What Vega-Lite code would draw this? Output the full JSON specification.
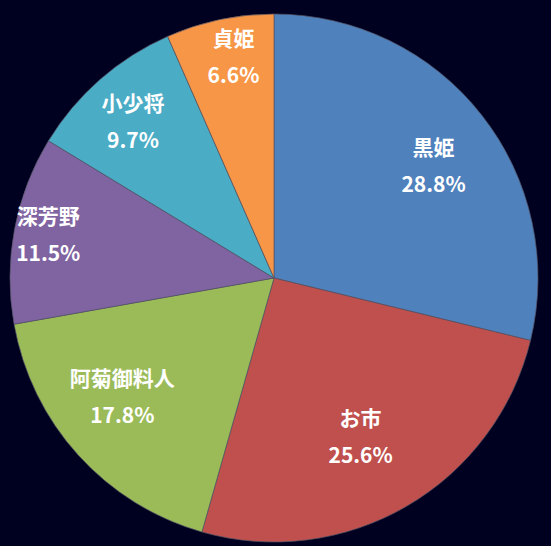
{
  "$schema": "https://vega.github.io/schema/vega-lite/v6.json",
  "width": 551,
  "height": 546,
  "autosize": {"type": "fit", "contains": "padding"},
  "padding": {"top": 14, "bottom": 4, "left": 10, "right": 13},
  "background": "#000020",
  "view": {"stroke": null},
  "data": {
    "values": [
      {"idx": 1, "name": "黒姫", "share": 28.8, "label": "28.8%"},
      {"idx": 2, "name": "お市", "share": 25.6, "label": "25.6%"},
      {"idx": 3, "name": "阿菊御料人", "share": 17.8, "label": "17.8%"},
      {"idx": 4, "name": "深芳野", "share": 11.5, "label": "11.5%"},
      {"idx": 5, "name": "小少将", "share": 9.7, "label": "9.7%"},
      {"idx": 6, "name": "貞姫", "share": 6.6, "label": "6.6%"}
    ]
  },
  "transform": [
    {"calculate": "datum.name + '\\n' + datum.label", "as": "text"}
  ],
  "encoding": {
    "theta": {"field": "share", "type": "quantitative", "stack": true},
    "order": {"field": "idx", "type": "quantitative"}
  },
  "layer": [
    {
      "mark": {"type": "arc", "outerRadius": 264, "stroke": "#555566", "strokeWidth": 0.7},
      "encoding": {
        "color": {
          "field": "name",
          "type": "nominal",
          "sort": ["黒姫", "お市", "阿菊御料人", "深芳野", "小少将", "貞姫"],
          "scale": {"range": ["#4F81BD", "#C0504D", "#9BBB59", "#8064A2", "#4BACC6", "#F79646"]},
          "legend": null
        }
      }
    },
    {
      "mark": {"type": "text", "radius": 194, "dx": 7, "dy": -9.6, "lineBreak": "\n", "lineHeight": 37, "fill": "white", "fontSize": 21, "fontWeight": "bold", "font": "Noto Sans CJK JP"},
      "encoding": {"text": {"condition": {"test": "datum.idx == 1", "field": "text"}, "value": ""}}
    },
    {
      "mark": {"type": "text", "radius": 182.7, "dx": -5.4, "dy": -15.4, "lineBreak": "\n", "lineHeight": 37, "fill": "white", "fontSize": 21, "fontWeight": "bold", "font": "Noto Sans CJK JP"},
      "encoding": {"text": {"condition": {"test": "datum.idx == 2", "field": "text"}, "value": ""}}
    },
    {
      "mark": {"type": "text", "radius": 193.5, "dx": -8.2, "dy": -27.5, "lineBreak": "\n", "lineHeight": 37, "fill": "white", "fontSize": 21, "fontWeight": "bold", "font": "Noto Sans CJK JP"},
      "encoding": {"text": {"condition": {"test": "datum.idx == 3", "field": "text"}, "value": ""}}
    },
    {
      "mark": {"type": "text", "radius": 229.7, "dx": 0, "dy": -17.2, "lineBreak": "\n", "lineHeight": 37, "fill": "white", "fontSize": 21, "fontWeight": "bold", "font": "Noto Sans CJK JP"},
      "encoding": {"text": {"condition": {"test": "datum.idx == 4", "field": "text"}, "value": ""}}
    },
    {
      "mark": {"type": "text", "radius": 209.5, "dx": -3, "dy": -15.9, "lineBreak": "\n", "lineHeight": 37, "fill": "white", "fontSize": 21, "fontWeight": "bold", "font": "Noto Sans CJK JP"},
      "encoding": {"text": {"condition": {"test": "datum.idx == 5", "field": "text"}, "value": ""}}
    },
    {
      "mark": {"type": "text", "radius": 222.6, "dx": 5.3, "dy": -19.7, "lineBreak": "\n", "lineHeight": 37, "fill": "white", "fontSize": 21, "fontWeight": "bold", "font": "Noto Sans CJK JP"},
      "encoding": {"text": {"condition": {"test": "datum.idx == 6", "field": "text"}, "value": ""}}
    }
  ]
}
